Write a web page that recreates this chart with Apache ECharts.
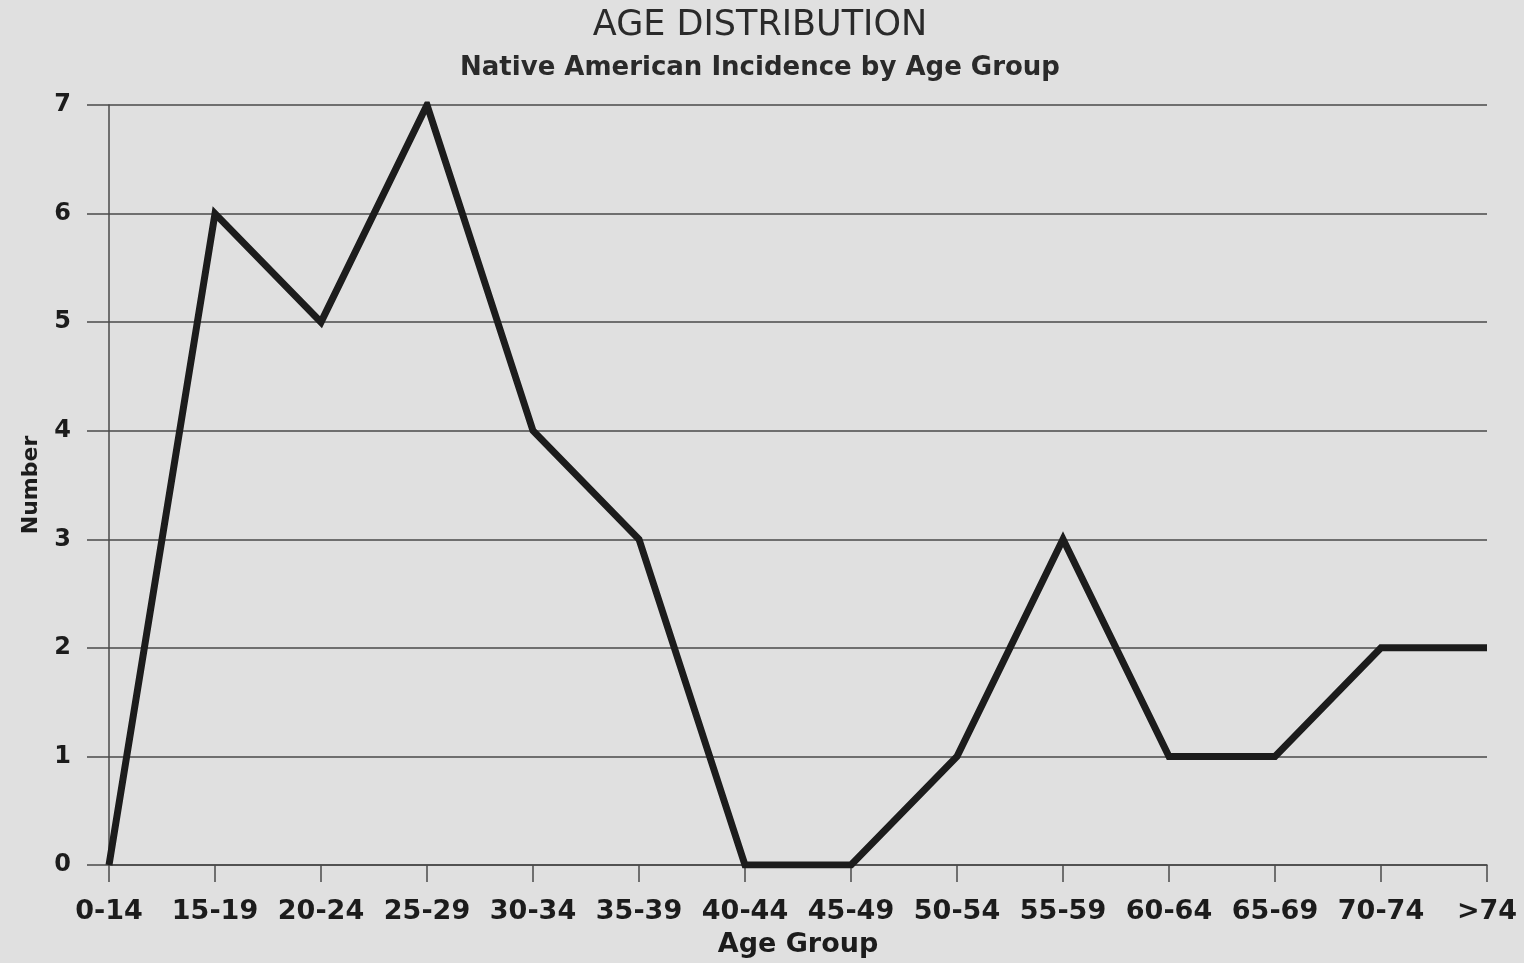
<!DOCTYPE html>
<html>
<head>
<meta charset="utf-8">
<title>Age Distribution</title>
<script src="https://cdn.jsdelivr.net/npm/echarts@6/dist/echarts.min.js"></script>
<style>
  html, body { margin: 0; padding: 0; background: #e0e0e0; }
  #chart { width: 1524px; height: 963px; }
</style>
</head>
<body>
<div id="chart"></div>
<script>
// Age groups along the horizontal axis
const ageGroups = ['0-14', '15-19', '20-24', '25-29', '30-34', '35-39', '40-44',
  '45-49', '50-54', '55-59', '60-64', '65-69', '70-74', '>74'];
// Number of cases in each age group
const caseCounts = [0, 6, 5, 7, 4, 3, 0, 0, 1, 3, 1, 1, 2, 2];
// Vertical axis range
const yMin = 0;
const yMax = 7;
const yStep = 1;

const chart = echarts.init(document.getElementById('chart'), null, { renderer: 'canvas' });

const ink = '#1c1c1c';
const rule = '#4a4a4a';

chart.setOption({
  backgroundColor: '#e0e0e0',
  animation: false,
  title: {
    text: 'AGE DISTRIBUTION',
    subtext: 'Native American Incidence by Age Group',
    left: 755,
    top: 3,
    textAlign: 'center',
    itemGap: 12,
    textStyle: {
      fontFamily: 'DejaVu Sans',
      fontWeight: 'normal',
      fontSize: 35,
      color: '#2a2a2a'
    },
    subtextStyle: {
      fontFamily: 'DejaVu Sans',
      fontWeight: 'bold',
      fontSize: 26,
      color: '#2a2a2a'
    }
  },
  grid: {
    left: 109,
    right: 37,
    top: 105,
    bottom: 97,
    containLabel: false
  },
  xAxis: {
    type: 'category',
    data: ageGroups,
    boundaryGap: false,
    name: 'Age Group',
    nameLocation: 'middle',
    nameGap: 66,
    nameTextStyle: {
      fontFamily: 'DejaVu Sans',
      fontWeight: 'bold',
      fontSize: 27,
      color: ink
    },
    axisLine: { show: true, lineStyle: { color: rule, width: 1.5 } },
    axisTick: { show: true, inside: false, length: 17, alignWithLabel: true, lineStyle: { color: rule, width: 1.5 } },
    axisLabel: {
      interval: 0,
      margin: 33,
      fontFamily: 'DejaVu Sans',
      fontWeight: 'bold',
      fontSize: 27,
      color: ink
    },
    splitLine: { show: false }
  },
  yAxis: {
    type: 'value',
    min: yMin,
    max: yMax,
    interval: yStep,
    name: 'Number',
    nameLocation: 'middle',
    nameGap: 67,
    nameRotate: 90,
    nameTextStyle: {
      fontFamily: 'DejaVu Sans',
      fontWeight: 'bold',
      fontSize: 22,
      color: ink
    },
    axisLine: { show: true, lineStyle: { color: rule, width: 1.5 } },
    axisTick: { show: true, inside: false, length: 22, lineStyle: { color: rule, width: 1.5 } },
    axisLabel: {
      margin: 38,
      fontFamily: 'DejaVu Sans',
      fontWeight: 'bold',
      fontSize: 24,
      color: ink
    },
    splitLine: { show: true, lineStyle: { color: rule, width: 1.5 } }
  },
  series: [{
    type: 'line',
    data: caseCounts,
    symbol: 'none',
    lineStyle: { color: ink, width: 7, join: 'miter', cap: 'butt' },
    z: 5
  }]
});
</script>
</body>
</html>
